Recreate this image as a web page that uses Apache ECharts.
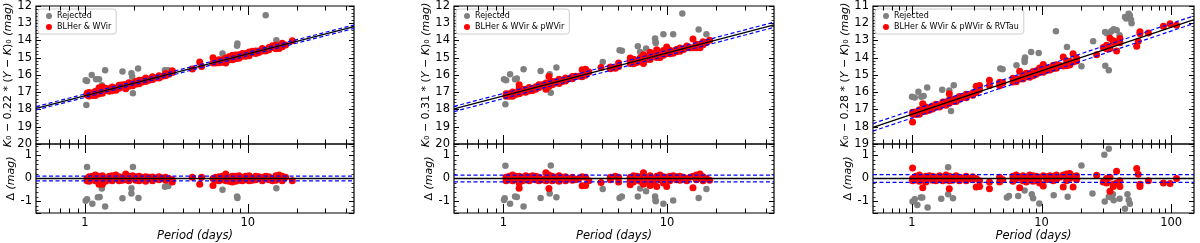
<!DOCTYPE html>
<html><head><meta charset="utf-8">
<script src="https://cdn.jsdelivr.net/npm/echarts@6/dist/echarts.min.js"></script>
<style>html,body{margin:0;padding:0;background:#fff}#c{width:1200px;height:243px}</style>
</head><body><div id="c"></div>
<script>
// ---------------- data ----------------
const xTickMajor12 = [1, 10];
const xTickMinor12 = [0.6,0.7,0.8,0.9,2,3,4,5,6,7,8,9,20,30,40];
const xTickMajor3 = [1, 10, 100];
const xTickMinor3 = [0.6,0.7,0.8,0.9,2,3,4,5,6,7,8,9,20,30,40,50,60,70,80,90];
const xTickLabels = [1, 10, 100];

const legendNames = ['BLHer & WVir', 'BLHer & WVir & pWVir', 'BLHer & WVir & pWVir & RVTau'];
const colourCoef = ['0.22', '0.31', '0.28'];

// Panel 1
const rej1Top = [[1.01,16.3],[1.03,16.35],[1.02,17.74],[1.10,16.0],[1.17,16.25],[1.22,16.25],[1.27,16.6],[1.33,15.72],[1.70,15.8],[1.93,15.9],[1.95,16.1],[1.97,17.06],[2.12,15.62],[3.1,15.72],[3.25,15.72],[7.0,14.75],[8.64,14.17],[8.6,14.3],[12.9,12.54],[15.0,13.98]];
const red1Top = [[1.03,17.16],[1.03,17.06],[1.06,17.22],[1.06,17.02],[1.11,17.19],[1.11,17.04],[1.16,17.19],[1.16,16.94],[1.16,17.06],[1.22,16.74],[1.22,17.09],[1.22,16.89],[1.28,16.69],[1.28,16.99],[1.28,17.06],[1.34,16.89],[1.34,16.77],[1.41,16.94],[1.41,16.79],[1.47,16.91],[1.47,16.69],[1.55,16.76],[1.55,16.89],[1.62,16.59],[1.62,16.77],[1.70,16.69],[1.70,16.56],[1.78,16.80],[1.78,16.55],[1.86,16.65],[1.86,16.45],[1.96,16.50],[1.96,16.62],[2.05,16.37],[2.05,16.53],[2.15,16.50],[2.15,16.30],[2.25,16.40],[2.25,16.30],[2.36,16.18],[2.36,16.38],[2.47,16.25],[2.47,16.30],[2.60,16.10],[2.60,16.26],[2.72,16.17],[2.85,16.05],[2.85,16.18],[2.99,16.07],[3.13,15.92],[3.13,16.05],[3.28,15.95],[3.44,15.75],[3.44,15.85],[4.57,15.65],[5.07,15.24],[5.21,15.51],[6.12,15.00],[6.12,15.30],[6.36,15.31],[6.36,15.18],[6.66,15.29],[6.66,15.11],[6.99,15.26],[6.99,15.11],[7.33,15.31],[7.33,15.01],[7.68,15.11],[7.68,14.94],[8.05,15.11],[8.05,14.86],[8.44,14.96],[8.44,15.06],[8.44,14.84],[8.85,15.03],[8.85,14.83],[9.27,14.91],[9.27,14.76],[9.72,14.91],[9.72,14.76],[10.2,14.88],[10.2,14.66],[10.7,14.73],[10.7,14.63],[11.2,14.76],[11.2,14.61],[11.7,14.61],[11.7,14.69],[12.3,14.46],[12.3,14.61],[12.9,14.61],[13.5,14.41],[13.5,14.54],[14.2,14.41],[14.2,14.31],[14.9,14.48],[14.9,14.28],[15.6,14.47],[15.6,14.32],[16.3,14.16],[16.3,14.36],[17.1,14.26],[18.8,14.01]];
const rej1Res = [[1.03,0.5],[1.01,-0.97],[1.03,-0.9],[1.11,-1.1],[1.2,-0.82],[1.23,-0.8],[1.27,-0.43],[1.33,-1.22],[1.70,-0.86],[1.93,-0.42],[1.93,-0.65],[1.97,0.5],[2.13,-0.85],[3.1,-0.36],[3.25,-0.33],[7.0,-0.49],[8.6,-0.78],[8.65,-0.85],[15.0,-0.42]];
const red1Res = [[1.03,0],[1.03,-0.1],[1.06,0.08],[1.06,-0.12],[1.11,0.1],[1.11,-0.05],[1.16,0.15],[1.16,-0.1],[1.16,0.02],[1.22,-0.25],[1.22,0.1],[1.22,-0.1],[1.28,-0.25],[1.28,0.05],[1.28,0.12],[1.34,0],[1.34,-0.12],[1.41,0.1],[1.41,-0.05],[1.47,0.12],[1.47,-0.1],[1.55,0.02],[1.55,0.15],[1.62,-0.1],[1.62,0.08],[1.70,0.05],[1.70,-0.08],[1.78,0.2],[1.78,-0.05],[1.86,0.1],[1.86,-0.1],[1.96,0],[1.96,0.12],[2.05,-0.08],[2.05,0.08],[2.15,0.1],[2.15,-0.1],[2.25,0.05],[2.25,-0.05],[2.36,-0.12],[2.36,0.08],[2.47,0],[2.47,0.05],[2.60,-0.1],[2.60,0.06],[2.72,0.02],[2.85,-0.05],[2.85,0.08],[2.99,0.02],[3.13,-0.08],[3.13,0.05],[3.28,0],[3.44,-0.15],[3.44,-0.05],[4.57,0.05],[5.07,-0.25],[5.21,0.05],[6.12,-0.3],[6.12,0],[6.36,0.05],[6.36,-0.08],[6.66,0.08],[6.66,-0.1],[6.99,0.1],[6.99,-0.05],[7.33,0.2],[7.33,-0.1],[7.68,0.05],[7.68,-0.12],[8.05,0.1],[8.05,-0.15],[8.44,0],[8.44,0.1],[8.44,-0.12],[8.85,0.12],[8.85,-0.08],[9.27,0.05],[9.27,-0.1],[9.72,0.1],[9.72,-0.05],[10.2,0.12],[10.2,-0.1],[10.7,0.02],[10.7,-0.08],[11.2,0.1],[11.2,-0.05],[11.7,0],[11.7,0.08],[12.3,-0.1],[12.3,0.05],[12.9,0.1],[13.5,-0.05],[13.5,0.08],[14.2,0],[14.2,-0.1],[14.9,0.12],[14.9,-0.08],[15.6,0.15],[15.6,0],[16.3,-0.1],[16.3,0.1],[17.1,0.05],[18.8,-0.1]];
const fit1 = [[0.5,17.93],[45,13.20]];
const fit1Up = [[0.5,17.83],[45,13.10]];
const fit1Lo = [[0.5,18.03],[45,13.30]];
const res1Zero = [[0.5,0],[45,0]];
const res1Up = [[0.5,0.1],[45,0.1]];
const res1Lo = [[0.5,-0.1],[45,-0.1]];

// Panel 2
const rej2Top = [[1.01,16.25],[1.04,16.3],[1.03,17.7],[1.10,15.95],[1.18,16.25],[1.21,16.2],[1.33,15.66],[1.69,15.77],[1.92,15.95],[1.95,17.03],[2.11,15.56],[4.05,15.24],[5.13,14.56],[5.3,14.6],[6.63,14.33],[6.85,14.66],[7.45,14.46],[8.45,13.88],[8.5,14.08],[8.53,14.14],[9.5,13.64],[10.9,13.64],[12.4,12.44],[15.6,13.36],[17.4,13.64]];
const red2Top = [[1.04,17.23],[1.04,17.08],[1.09,17.23],[1.09,17.08],[1.14,17.23],[1.14,16.98],[1.19,17.03],[1.19,17.13],[1.25,16.56],[1.25,16.78],[1.25,17.08],[1.31,16.98],[1.31,16.83],[1.37,17.0],[1.37,16.83],[1.44,16.91],[1.44,16.73],[1.51,16.90],[1.51,16.78],[1.58,16.68],[1.58,16.83],[1.65,16.72],[1.65,16.57],[1.73,16.57],[1.82,16.82],[1.82,16.57],[1.82,16.47],[1.90,16.09],[1.90,16.67],[1.90,16.47],[1.99,16.57],[1.99,16.37],[2.09,16.47],[2.09,16.37],[2.19,16.49],[2.19,16.25],[2.29,16.32],[2.29,16.37],[2.40,16.17],[2.40,16.35],[2.52,16.22],[2.64,16.22],[2.64,16.09],[2.76,16.07],[2.89,16.07],[3.03,15.70],[3.03,16.10],[3.18,15.67],[3.18,16.02],[3.33,15.82],[3.95,15.56],[4.51,15.64],[4.51,15.54],[4.83,15.61],[5.06,15.31],[5.06,15.51],[5.96,15.01],[5.96,15.33],[5.96,15.18],[6.24,15.35],[6.24,15.08],[6.54,15.18],[6.54,15.28],[6.85,15.01],[6.85,15.21],[7.18,15.33],[7.18,14.83],[7.52,15.08],[7.52,14.93],[7.88,15.10],[7.88,14.68],[8.26,14.93],[8.26,14.78],[8.65,14.98],[8.65,14.53],[9.06,14.78],[9.06,14.98],[9.50,14.86],[9.50,14.58],[9.95,14.37],[9.95,14.77],[10.4,14.77],[10.4,14.57],[10.9,14.62],[10.9,14.74],[11.4,14.52],[11.4,14.65],[12.0,14.62],[12.0,14.44],[12.6,14.52],[13.2,14.32],[13.2,14.42],[13.8,14.42],[14.4,13.92],[14.4,14.42],[15.1,14.42],[15.1,14.22],[15.9,14.42],[15.9,14.22],[16.6,14.25],[16.6,14.07],[17.4,14.12],[18.2,13.99]];
const rej2Res = [[1.03,0.55],[1.01,-0.93],[1.02,-0.86],[1.10,-1.1],[1.18,-0.78],[1.21,-0.8],[1.33,-1.22],[1.69,-0.85],[1.92,-0.65],[1.95,0.57],[2.11,-0.82],[4.05,-0.46],[5.13,-0.85],[5.3,-0.78],[6.63,-0.78],[6.85,-0.44],[7.45,-0.55],[8.45,-0.78],[8.5,-0.93],[8.53,-0.99],[9.5,-1.1],[10.9,-0.96],[15.6,-0.85],[17.4,-0.46]];
const red2Res = [[1.04,0.05],[1.04,-0.1],[1.09,0.1],[1.09,-0.05],[1.14,0.15],[1.14,-0.1],[1.19,0],[1.19,0.1],[1.25,-0.42],[1.25,-0.2],[1.25,0.1],[1.31,0.05],[1.31,-0.1],[1.37,0.12],[1.37,-0.05],[1.44,0.08],[1.44,-0.1],[1.51,0.12],[1.51,0],[1.58,-0.05],[1.58,0.1],[1.65,0.05],[1.65,-0.1],[1.73,-0.05],[1.82,0.25],[1.82,0],[1.82,-0.1],[1.90,-0.43],[1.90,0.15],[1.90,-0.05],[1.99,0.1],[1.99,-0.1],[2.09,0.05],[2.09,-0.05],[2.19,0.12],[2.19,-0.12],[2.29,0],[2.29,0.05],[2.40,-0.1],[2.40,0.08],[2.52,0],[2.64,0.05],[2.64,-0.08],[2.76,-0.05],[2.89,0],[3.03,-0.32],[3.03,0.08],[3.18,-0.3],[3.18,0.05],[3.33,-0.1],[3.95,-0.17],[4.51,0.05],[4.51,-0.05],[4.83,0.1],[5.06,-0.15],[5.06,0.05],[5.96,-0.27],[5.96,0.05],[5.96,-0.1],[6.24,0.12],[6.24,-0.15],[6.54,0],[6.54,0.1],[6.85,-0.12],[6.85,0.08],[7.18,0.25],[7.18,-0.25],[7.52,0.05],[7.52,-0.1],[7.88,0.12],[7.88,-0.3],[8.26,0],[8.26,-0.15],[8.65,0.1],[8.65,-0.35],[9.06,-0.05],[9.06,0.15],[9.50,0.08],[9.50,-0.2],[9.95,-0.35],[9.95,0.05],[10.4,0.1],[10.4,-0.1],[10.9,0],[10.9,0.12],[11.4,-0.05],[11.4,0.08],[12.0,0.1],[12.0,-0.08],[12.6,0.05],[13.2,-0.1],[13.2,0],[13.8,0.05],[14.4,-0.4],[14.4,0.1],[15.1,0.15],[15.1,-0.05],[15.9,0.2],[15.9,0],[16.6,0.08],[16.6,-0.1],[17.4,0],[18.2,-0.08]];
const fit2 = [[0.5,17.97],[45,13.09]];
const fit2Up = [[0.5,17.82],[45,12.94]];
const fit2Lo = [[0.5,18.12],[45,13.24]];
const res2Zero = [[0.5,0],[45,0]];
const res2Up = [[0.5,0.15],[45,0.15]];
const res2Lo = [[0.5,-0.15],[45,-0.15]];

// Panel 3
const rej3Top = [[1.0,16.26],[1.05,16.3],[1.12,15.97],[1.18,16.26],[1.23,16.22],[1.31,15.72],[1.71,15.86],[1.94,15.9],[2.0,17.09],[2.1,15.6],[4.8,14.62],[5.0,14.66],[6.4,14.43],[7.4,14.24],[7.4,14.1],[7.45,13.98],[8.3,13.66],[9.5,13.72],[12.9,12.46],[15.7,13.37],[20.3,14.49],[25,13.04],[30.9,12.5],[32,12.6],[33.5,12.55],[34.7,12.45],[31,14.47],[33,14.72],[36,12.35],[38,12.4],[40,12.7],[44,11.64],[45,11.73],[47,11.45],[48,11.55],[49,11.8],[49.5,12.0]];
const red3Top = [[1.01,17.72],[1.01,17.26],[1.01,17.16],[1.07,17.29],[1.07,17.14],[1.14,17.28],[1.14,17.01],[1.21,16.66],[1.21,17.11],[1.21,17.01],[1.28,17.10],[1.28,16.85],[1.36,16.93],[1.36,17.05],[1.44,16.79],[1.44,16.97],[1.53,16.85],[1.53,16.70],[1.63,16.86],[1.63,16.74],[1.73,16.57],[1.73,16.72],[1.83,16.76],[1.83,16.56],[1.94,16.09],[1.94,16.64],[1.94,16.44],[2.06,16.53],[2.06,16.40],[2.19,16.53],[2.19,16.41],[2.32,16.25],[2.32,16.40],[2.46,16.30],[2.62,16.32],[2.62,16.12],[2.78,16.15],[2.94,16.04],[2.94,16.17],[3.13,15.65],[3.13,16.02],[3.32,15.61],[3.32,15.86],[3.96,15.31],[3.96,15.61],[4.74,15.42],[4.74,15.62],[5.03,15.45],[6.01,15.41],[6.01,15.19],[6.38,15.24],[6.38,15.39],[6.77,14.78],[6.77,15.23],[7.18,15.23],[7.18,15.01],[7.62,15.10],[7.62,14.90],[8.09,15.13],[8.09,14.93],[8.58,14.92],[8.58,15.04],[8.58,14.80],[9.11,14.95],[9.11,14.75],[9.66,14.84],[9.66,14.59],[10.3,14.39],[10.3,14.84],[10.9,14.74],[10.9,14.61],[11.6,14.71],[11.6,14.59],[12.3,14.43],[12.3,14.63],[13.0,14.61],[13.0,14.41],[13.8,14.45],[14.7,13.96],[14.7,14.48],[15.6,14.47],[15.6,14.17],[16.5,14.42],[16.5,14.20],[17.5,13.77],[17.5,14.24],[18.6,14.02],[18.6,14.19],[26.6,13.82],[29.9,13.40],[31.7,13.48],[31.7,13.28],[33.7,12.87],[33.7,13.47],[35.7,13.01],[35.7,13.11],[37.9,13.61],[37.9,13.09],[40.2,12.88],[40.2,13.13],[54.2,13.33],[55.7,13.05],[57.4,12.59],[57.4,12.49],[66.7,12.57],[87.1,12.18],[98.1,12.03],[110,12.12]];
const rej3Res = [[1.01,-1.0],[1.05,-0.9],[1.1,-1.15],[1.17,-0.83],[1.2,-0.83],[1.32,-1.26],[1.68,-0.88],[1.9,0.49],[1.9,-0.69],[2.07,-0.86],[5.4,-0.83],[5.6,-0.76],[6.6,-0.76],[7.4,-0.52],[8.4,-0.69],[8.6,-0.86],[9.6,-1.09],[12.4,-0.73],[15.9,-0.79],[20.3,0.57],[24.7,-0.65],[30.5,1.03],[33,1.29],[30.7,-1.0],[33,-0.79],[34,-0.82],[35.5,-0.69],[36,-0.95],[40,-0.88],[44,-1.31],[46,-0.69],[47,-0.94],[48,-1.1]];
const red3Res = [[1.01,0.46],[1.01,0],[1.01,-0.1],[1.07,0.1],[1.07,-0.05],[1.14,0.15],[1.14,-0.12],[1.21,-0.4],[1.21,0.05],[1.21,-0.05],[1.28,0.1],[1.28,-0.15],[1.36,0],[1.36,0.12],[1.44,-0.08],[1.44,0.1],[1.53,0.05],[1.53,-0.1],[1.63,0.12],[1.63,0],[1.73,-0.1],[1.73,0.05],[1.83,0.15],[1.83,-0.05],[1.94,-0.45],[1.94,0.1],[1.94,-0.1],[2.06,0.05],[2.06,-0.08],[2.19,0.12],[2.19,0],[2.32,-0.1],[2.32,0.05],[2.46,0.02],[2.62,0.1],[2.62,-0.1],[2.78,0],[2.94,-0.05],[2.94,0.08],[3.13,-0.37],[3.13,0],[3.32,-0.35],[3.32,-0.1],[3.96,-0.45],[3.96,-0.15],[4.74,-0.15],[4.74,0.05],[5.03,-0.05],[6.01,0.1],[6.01,-0.12],[6.38,0],[6.38,0.15],[6.77,-0.4],[6.77,0.05],[7.18,0.12],[7.18,-0.1],[7.62,0.05],[7.62,-0.15],[8.09,0.15],[8.09,-0.05],[8.58,0],[8.58,0.12],[8.58,-0.12],[9.11,0.1],[9.11,-0.1],[9.66,0.05],[9.66,-0.2],[10.3,-0.33],[10.3,0.12],[10.9,0.08],[10.9,-0.05],[11.6,0.12],[11.6,0],[12.3,-0.1],[12.3,0.1],[13.0,0.15],[13.0,-0.05],[13.8,0.05],[14.7,-0.37],[14.7,0.15],[15.6,0.2],[15.6,-0.1],[16.5,0.22],[16.5,0],[17.5,-0.37],[17.5,0.1],[18.6,-0.05],[18.6,0.12],[26.6,0.14],[29.9,-0.15],[31.7,0],[31.7,-0.2],[33.7,-0.55],[33.7,0.05],[35.7,-0.35],[35.7,-0.25],[37.9,0.32],[37.9,-0.2],[40.2,-0.35],[40.2,-0.1],[54.2,0.43],[55.7,0.18],[57.4,-0.25],[57.4,-0.35],[66.7,-0.1],[87.1,-0.2],[98.1,-0.22],[110,0]];
const fit3 = [[0.5,18.03],[150,11.79]];
const fit3Up = [[0.5,17.81],[150,11.57]];
const fit3Lo = [[0.5,18.25],[150,12.01]];
const res3Zero = [[0.5,0],[150,0]];
const res3Up = [[0.5,0.17],[150,0.17]];
const res3Lo = [[0.5,-0.17],[150,-0.17]];

// ---------------- layout / styles ----------------
const FONT = 'DejaVu Sans';
const panels = [
  {left:36, width:318, xr:[0.5,45], yr:[12,20], major:xTickMajor12, minor:xTickMinor12,
   rejTop:rej1Top, redTop:red1Top, rejRes:rej1Res, redRes:red1Res, fit:fit1, fitUp:fit1Up, fitLo:fit1Lo, rZero:res1Zero, rUp:res1Up, rLo:res1Lo},
  {left:454, width:320, xr:[0.5,45], yr:[12,20], major:xTickMajor12, minor:xTickMinor12,
   rejTop:rej2Top, redTop:red2Top, rejRes:rej2Res, redRes:red2Res, fit:fit2, fitUp:fit2Up, fitLo:fit2Lo, rZero:res2Zero, rUp:res2Up, rLo:res2Lo},
  {left:873, width:321, xr:[0.5,150], yr:[11,19], major:xTickMajor3, minor:xTickMinor3,
   rejTop:rej3Top, redTop:red3Top, rejRes:rej3Res, redRes:red3Res, fit:fit3, fitUp:fit3Up, fitLo:fit3Lo, rZero:res3Zero, rUp:res3Up, rLo:res3Lo}
];
const TOP = 6, TOPH = 138, BOTH = 69;

const grid = [], xAxis = [], yAxis = [], series = [], legend = [];

function tickSeries(gi, yi, p, midY) {
  const data = p.major.map(v => [v, 1]).concat(p.minor.map(v => [v, 0]));
  return {
    type: 'custom', xAxisIndex: gi, yAxisIndex: yi, silent: true, clip: false, z: 20,
    data: data,
    renderItem: function (params, api) {
      const cs = params.coordSys;
      const px = Math.round(api.coord([api.value(0), midY])[0]) + 0.5;
      const L = api.value(1) === 1 ? 9 : 4.5;
      const st = {stroke: '#000', lineWidth: 1};
      return {type: 'group', children: [
        {type: 'line', shape: {x1: px, y1: cs.y + cs.height, x2: px, y2: cs.y + cs.height - L}, style: st},
        {type: 'line', shape: {x1: px, y1: cs.y, x2: px, y2: cs.y + L}, style: st}
      ]};
    }
  };
}
function lineSeries(gi, yi, data, color, width, dashed) {
  return {type: 'line', xAxisIndex: gi, yAxisIndex: yi, data: data, symbol: 'none', silent: true, z: 10,
    lineStyle: {color: color, width: width, type: dashed ? [4, 2.5] : 'solid'}, animation: false};
}
function yAx(gi, pos, range, inverse, showLabel, name) {
  const a = {
    type: 'value', gridIndex: gi, position: pos, min: range[0], max: range[1], inverse: inverse,
    axisLine: {show: false}, splitLine: {show: false},
    axisTick: {show: true, inside: true, length: 5, lineStyle: {color: '#000', width: 1}},
    minorTick: {show: true, splitNumber: 5, length: 2.5, lineStyle: {color: '#000', width: 0.8}},
    axisLabel: {show: showLabel, color: '#000', fontSize: 11.5, fontFamily: FONT, margin: 4,
      formatter: function (v) { return Number.isInteger(v) ? String(v) : ''; }}
  };
  if (range[0] === Math.floor(range[0])) a.interval = 1; else a.splitNumber = 3;
  if (name) {
    a.name = name; a.nameLocation = 'middle'; a.nameRotate = 90; a.nameGap = 16;
    a.nameTextStyle = {color: '#000', fontSize: 11, fontFamily: FONT,
      rich: {i: {fontStyle: 'italic', fontSize: 11, fontFamily: FONT, color: '#000'},
             n: {fontSize: 11, fontFamily: FONT, color: '#000'}}};
  }
  return a;
}

panels.forEach((p, k) => {
  const gT = 2 * k, gB = 2 * k + 1;
  grid.push({left: p.left, width: p.width, top: TOP, height: TOPH, show: true, borderColor: '#000', borderWidth: 1.2, backgroundColor: 'transparent'});
  grid.push({left: p.left, width: p.width, top: TOP + TOPH, height: BOTH, show: true, borderColor: '#000', borderWidth: 1.2, backgroundColor: 'transparent'});
  [gT, gB].forEach(g => {
    const isBottom = g === gB;
    xAxis.push({
      type: 'log', logBase: 10, gridIndex: g, min: p.xr[0], max: p.xr[1],
      axisLine: {show: false}, axisTick: {show: false}, splitLine: {show: false}, minorTick: {show: false},
      axisLabel: {show: isBottom, color: '#000', fontSize: 11.5, fontFamily: FONT, margin: 4,
        showMinLabel: false, showMaxLabel: false,
        formatter: function (v) { return xTickLabels.some(t => Math.abs(t - v) < 1e-6) ? String(Math.round(v)) : ''; }},
      name: isBottom ? 'Period (days)' : '', nameLocation: 'middle', nameGap: 15,
      nameTextStyle: {color: '#000', fontSize: 11.5, fontStyle: 'italic', fontFamily: FONT}
    });
  });
  const yTopName = '{i|K}{n|₀ − ' + colourCoef[k] + ' * (}{i|Y}{n| − }{i|K}{n|)₀ }{i|(mag)}';
  yAxis.push(yAx(gT, 'left', p.yr, true, true, yTopName));
  yAxis.push(yAx(gT, 'right', p.yr, true, false, null));
  yAxis.push(yAx(gB, 'left', [-1.5, 1.5], false, true, '{n|Δ }{i|(mag)}'));
  yAxis.push(yAx(gB, 'right', [-1.5, 1.5], false, false, null));
  const yT = 4 * k, yB = 4 * k + 2;
  // top panel
  series.push({type: 'scatter', name: 'Rejected', xAxisIndex: gT, yAxisIndex: yT, data: p.rejTop, symbolSize: 6.5, itemStyle: {color: '#808080', opacity: 1}, z: 2});
  series.push({type: 'scatter', name: legendNames[k], xAxisIndex: gT, yAxisIndex: yT, data: p.redTop, symbolSize: 7, itemStyle: {color: '#ff0000', opacity: 1}, z: 3});
  series.push(lineSeries(gT, yT, p.fitUp, '#0000ff', 1.2, true));
  series.push(lineSeries(gT, yT, p.fitLo, '#0000ff', 1.2, true));
  series.push(lineSeries(gT, yT, p.fit, '#000000', 1.3, false));
  series.push(tickSeries(gT, yT, p, (p.yr[0] + p.yr[1]) / 2));
  // residual panel
  series.push({type: 'scatter', name: 'Rejected', xAxisIndex: gB, yAxisIndex: yB, data: p.rejRes, symbolSize: 6.5, itemStyle: {color: '#808080', opacity: 1}, z: 2});
  series.push({type: 'scatter', name: legendNames[k], xAxisIndex: gB, yAxisIndex: yB, data: p.redRes, symbolSize: 7, itemStyle: {color: '#ff0000', opacity: 1}, z: 3});
  series.push(lineSeries(gB, yB, p.rUp, '#0000ff', 1.2, true));
  series.push(lineSeries(gB, yB, p.rLo, '#0000ff', 1.2, true));
  series.push(lineSeries(gB, yB, p.rZero, '#000000', 1.3, false));
  series.push(tickSeries(gB, yB, p, 0));
  legend.push({
    left: p.left + 2, top: 9, orient: 'vertical', icon: 'circle', itemWidth: 6, itemHeight: 6,
    itemGap: 3, itemTextGap: 4, selectedMode: false,
    padding: [3, 5, 3, 8], backgroundColor: '#fff', borderColor: '#cccccc', borderWidth: 1, borderRadius: 3,
    textStyle: {fontSize: 8, fontFamily: FONT, color: '#000'},
    data: [{name: 'Rejected', itemStyle: {color: '#808080'}}, {name: legendNames[k], itemStyle: {color: '#ff0000'}}]
  });
});

const chart = echarts.init(document.getElementById('c'), null, {renderer: 'canvas'});
chart.setOption({animation: false, backgroundColor: '#fff', grid, xAxis, yAxis, series, legend});
</script></body></html>
